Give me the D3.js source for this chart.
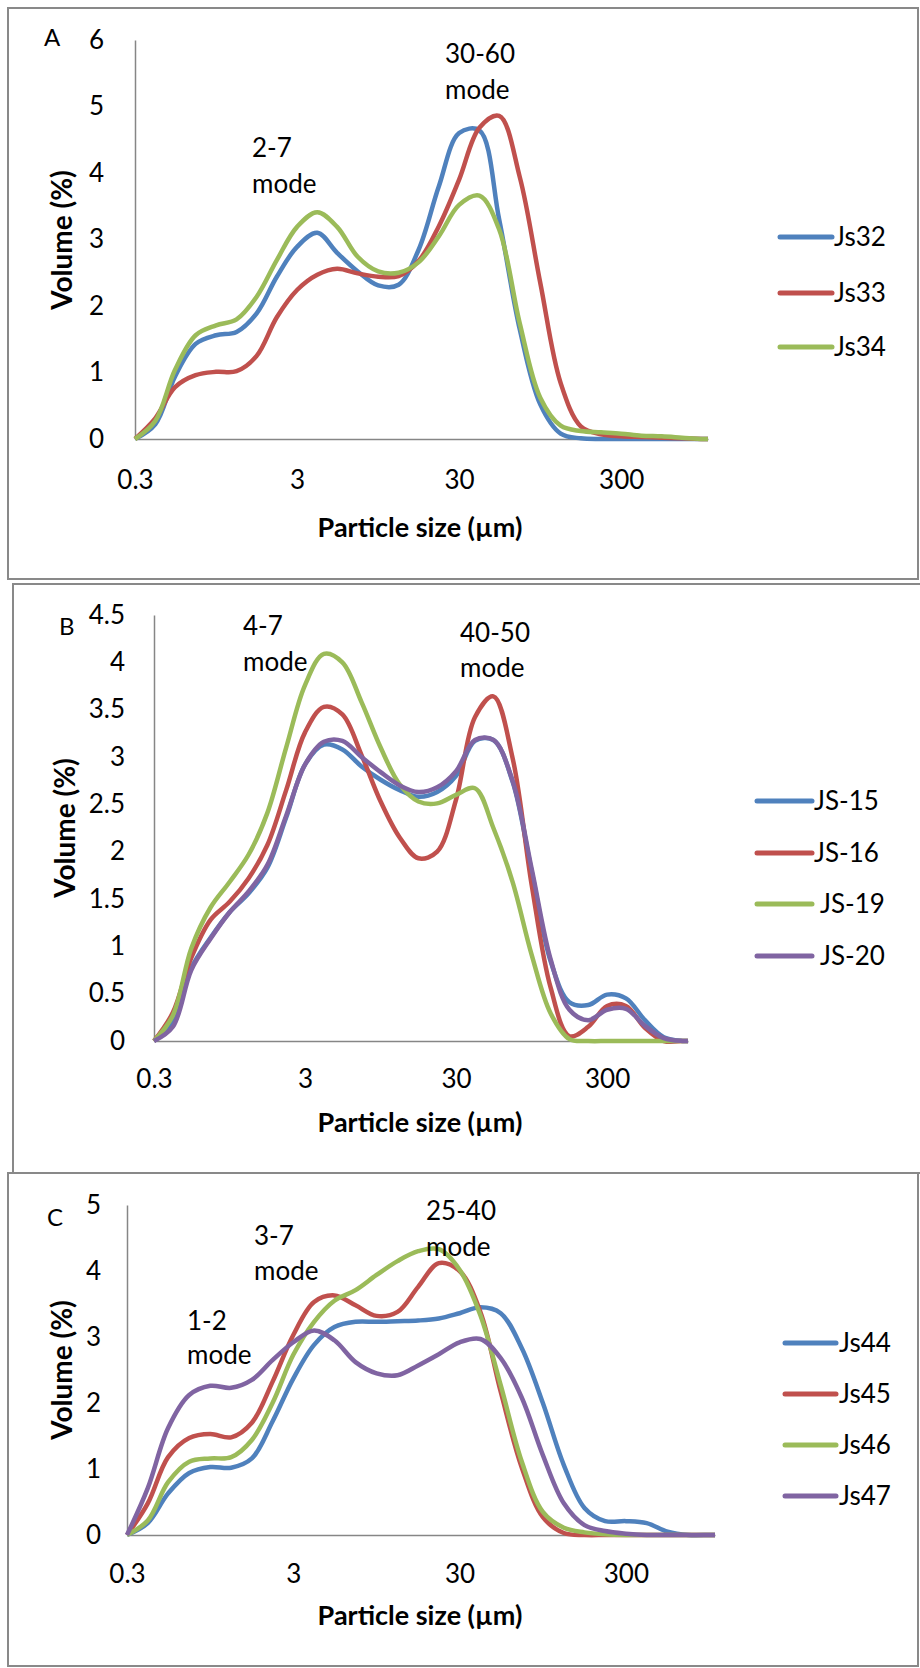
<!DOCTYPE html>
<html>
<head>
<meta charset="utf-8">
<script src="https://cdn.jsdelivr.net/npm/d3@7"></script>
<style>
  body { margin: 0; background: #fff; }
  svg text { font-family: Lato, "Open Sans", sans-serif; fill: #000; }
</style>
</head>
<body>
<svg id="chart" width="920" height="1668"></svg>
<script>
// particle size bins (µm), about 8 per decade
var sizes = [0.3, 0.4, 0.53, 0.71, 0.95, 1.27, 1.69, 2.25, 3, 4, 5.3, 7.1, 9.5, 12.7, 16.9, 22.5,
             30, 40, 53, 71, 95, 127, 169, 225, 300, 400, 534, 712, 949, 1030];
var sizeTicks = [0.3, 3, 30, 300];

// panel A
var namesA = ["Js32", "Js33", "Js34"];
var js32 = [0, 0.22, 0.94, 1.43, 1.56, 1.61, 1.89, 2.44, 2.89, 3.1, 2.8, 2.52, 2.31, 2.32, 2.85, 3.8,
            4.6, 4.64, 3.3, 1.65, 0.52, 0.08, 0.01, 0, 0, 0, 0, 0, 0, 0];
var js33 = [0, 0.31, 0.78, 0.96, 1.01, 1.02, 1.25, 1.83, 2.24, 2.47, 2.56, 2.49, 2.44, 2.45, 2.68, 3.2,
            3.9, 4.68, 4.86, 3.94, 2.35, 0.84, 0.19, 0.07, 0.04, 0.03, 0.02, 0.01, 0, 0];
var js34 = [0, 0.27, 1.04, 1.56, 1.71, 1.8, 2.14, 2.69, 3.19, 3.41, 3.19, 2.74, 2.52, 2.5, 2.66, 3.05,
            3.52, 3.66, 3.15, 1.74, 0.62, 0.2, 0.12, 0.1, 0.08, 0.05, 0.04, 0.02, 0, 0];
var ticksA = [0, 1, 2, 3, 4, 5, 6];

// panel B
var namesB = ["JS-15", "JS-16", " JS-19", " JS-20"];
var js15 = [0, 0.2, 0.77, 1.09, 1.36, 1.56, 1.83, 2.36, 2.92, 3.13, 3.08, 2.9, 2.76, 2.65, 2.58, 2.63,
            2.8, 3.17, 3.18, 2.74, 1.79, 0.84, 0.41, 0.38, 0.49, 0.45, 0.22, 0.04, 0, 0];
var js16 = [0, 0.3, 0.88, 1.28, 1.47, 1.72, 2.07, 2.65, 3.26, 3.53, 3.45, 3.02, 2.53, 2.15, 1.93, 2.0,
            2.55, 3.42, 3.64, 2.99, 1.65, 0.56, 0.05, 0.15, 0.37, 0.37, 0.14, 0, 0, 0];
var js19 = [0, 0.27, 0.98, 1.41, 1.68, 1.97, 2.41, 3.1, 3.76, 4.09, 4.0, 3.58, 3.1, 2.71, 2.53, 2.51,
            2.6, 2.67, 2.25, 1.68, 0.91, 0.29, 0.02, 0, 0, 0, 0, 0, 0, 0];
var js20 = [0, 0.15, 0.75, 1.08, 1.36, 1.58, 1.86, 2.38, 2.92, 3.16, 3.17, 3.0, 2.84, 2.7, 2.63, 2.68,
            2.85, 3.18, 3.18, 2.75, 1.82, 0.86, 0.33, 0.22, 0.33, 0.34, 0.16, 0.03, 0, 0];
var ticksB = [0, 0.5, 1, 1.5, 2, 2.5, 3, 3.5, 4, 4.5];

// panel C
var namesC = ["Js44", "Js45", "Js46", "Js47"];
var js44 = [0, 0.18, 0.63, 0.94, 1.03, 1.02, 1.16, 1.72, 2.37, 2.88, 3.15, 3.23, 3.23, 3.24, 3.25, 3.28,
            3.36, 3.45, 3.36, 2.83, 2.0, 1.06, 0.41, 0.21, 0.21, 0.18, 0.05, 0, 0, 0];
var js45 = [0, 0.48, 1.18, 1.47, 1.53, 1.48, 1.7, 2.32, 3.03, 3.53, 3.63, 3.48, 3.32, 3.38, 3.76, 4.12,
            4.0, 3.38, 2.17, 1.02, 0.27, 0.03, 0, 0, 0, 0, 0, 0, 0, 0];
var js46 = [0, 0.22, 0.8, 1.11, 1.16, 1.18, 1.44, 2.0, 2.73, 3.23, 3.55, 3.71, 3.94, 4.15, 4.3, 4.33,
            4.02, 3.33, 2.27, 1.11, 0.35, 0.11, 0.04, 0.01, 0, 0, 0, 0, 0, 0];
var js47 = [0, 0.71, 1.62, 2.12, 2.26, 2.23, 2.35, 2.65, 2.92, 3.1, 2.95, 2.62, 2.45, 2.42, 2.57, 2.74,
            2.92, 2.97, 2.68, 2.08, 1.21, 0.48, 0.15, 0.06, 0.02, 0, 0, 0, 0, 0];
var ticksC = [0, 1, 2, 3, 4, 5];

var colors = ["#4F81BD", "#C0504D", "#9BBB59", "#8064A2"];

var panels = [
  {
    box: [8, 8, 910, 571], letter: "A", letterPos: [44, 46],
    x0: 135, x1: 708, yBase: 439, yTop: 40, yMax: 6, ticks: ticksA, tickPad: 31, xLabY: 50,
    series: [js32, js33, js34], names: namesA,
    leg: {x0: 780, x1: 832, tx: 834, ys: [237, 293, 347]},
    modes: [{t: ["2-7", "mode"], x: 252, y: [157, 193]}, {t: ["30-60", "mode"], x: 445, y: [63, 99]}],
    xTitleY: 537, yTitle: [62, 240]
  },
  {
    box: [13, 584, 930, 589], letter: "B", letterPos: [59, 635],
    x0: 154, x1: 688, yBase: 1041, yTop: 615, yMax: 4.5, ticks: ticksB, tickPad: 29, xLabY: 47,
    series: [js15, js16, js19, js20], names: namesB,
    leg: {x0: 757, x1: 812, tx: 814, ys: [801, 853, 904, 956]},
    modes: [{t: ["4-7", "mode"], x: 243, y: [635, 671]}, {t: ["40-50", "mode"], x: 460, y: [642, 677]}],
    xTitleY: 1132, yTitle: [65, 828]
  },
  {
    box: [8, 1173, 910, 493], letter: "C", letterPos: [47, 1226],
    x0: 127, x1: 715, yBase: 1535, yTop: 1205, yMax: 5, ticks: ticksC, tickPad: 26, xLabY: 48,
    series: [js44, js45, js46, js47], names: namesC,
    leg: {x0: 785, x1: 836, tx: 839, ys: [1343, 1394, 1445, 1496]},
    modes: [{t: ["1-2", "mode"], x: 187, y: [1330, 1364]}, {t: ["3-7", "mode"], x: 254, y: [1245, 1280]},
            {t: ["25-40", "mode"], x: 426, y: [1220, 1256]}],
    xTitleY: 1625, yTitle: [62, 1370]
  }
];

var svg = d3.select("#chart");

panels.forEach(function(p) {
  var g = svg.append("g");

  g.append("rect")
    .attr("x", p.box[0]).attr("y", p.box[1])
    .attr("width", p.box[2]).attr("height", p.box[3])
    .attr("fill", "#fff").attr("stroke", "#898989").attr("stroke-width", 2);

  var x = d3.scaleLog().domain([sizes[0], sizes[sizes.length - 1]]).range([p.x0, p.x1]);
  var y = d3.scaleLinear().domain([0, p.yMax]).range([p.yBase, p.yTop]);

  // axes
  var xa = g.append("g").attr("transform", "translate(0," + p.yBase + ")")
    .call(d3.axisBottom(x).tickValues(sizeTicks).tickFormat(function(d) { return String(d); })
      .tickSize(0).tickSizeOuter(0));
  xa.selectAll("text").attr("y", p.xLabY).attr("dy", 0);

  var ya = g.append("g").attr("transform", "translate(" + p.x0 + ",0)")
    .call(d3.axisLeft(y).tickValues(p.ticks).tickFormat(function(d) { return String(d); })
      .tickSize(0).tickSizeOuter(0).tickPadding(p.tickPad));

  [xa, ya].forEach(function(a) {
    a.select(".domain").attr("stroke", "#868686").attr("stroke-width", 1.5);
    a.selectAll("text").style("font-size", "26px").style("font-family", "Lato, 'Open Sans', sans-serif").attr("fill", "#000");
  });

  // series lines
  var line = d3.line()
    .x(function(d, i) { return x(sizes[i]); })
    .y(function(d) { return y(d); })
    .curve(d3.curveCatmullRom.alpha(0.5));

  p.series.forEach(function(vals, i) {
    g.append("path")
      .attr("d", line(vals))
      .attr("fill", "none")
      .attr("stroke", colors[i])
      .attr("stroke-width", 4.5)
      .attr("stroke-linejoin", "round");
  });

  // legend
  p.names.forEach(function(n, i) {
    g.append("line")
      .attr("x1", p.leg.x0).attr("x2", p.leg.x1)
      .attr("y1", p.leg.ys[i]).attr("y2", p.leg.ys[i])
      .attr("stroke", colors[i]).attr("stroke-width", 5).attr("stroke-linecap", "round");
    g.append("text")
      .attr("x", p.leg.tx).attr("y", p.leg.ys[i]).attr("dy", "0.36em")
      .style("font-size", "26px").style("white-space", "pre")
      .text(n);
  });

  // mode annotations
  p.modes.forEach(function(m) {
    m.t.forEach(function(t, j) {
      g.append("text").attr("x", m.x).attr("y", m.y[j])
        .style("font-size", "26px").text(t);
    });
  });

  // panel letter
  g.append("text").attr("x", p.letterPos[0]).attr("y", p.letterPos[1])
    .style("font-size", "24px").text(p.letter);

  // axis titles
  g.append("text").attr("x", 420).attr("y", p.xTitleY)
    .attr("text-anchor", "middle")
    .style("font-size", "27px").style("font-weight", "bold")
    .text("Particle size (µm)");

  g.append("text")
    .attr("transform", "translate(" + p.yTitle[0] + "," + p.yTitle[1] + ") rotate(-90)")
    .attr("text-anchor", "middle").attr("dy", "0.35em")
    .style("font-size", "28px").style("font-weight", "bold")
    .text("Volume (%)");
});
</script>
</body>
</html>
